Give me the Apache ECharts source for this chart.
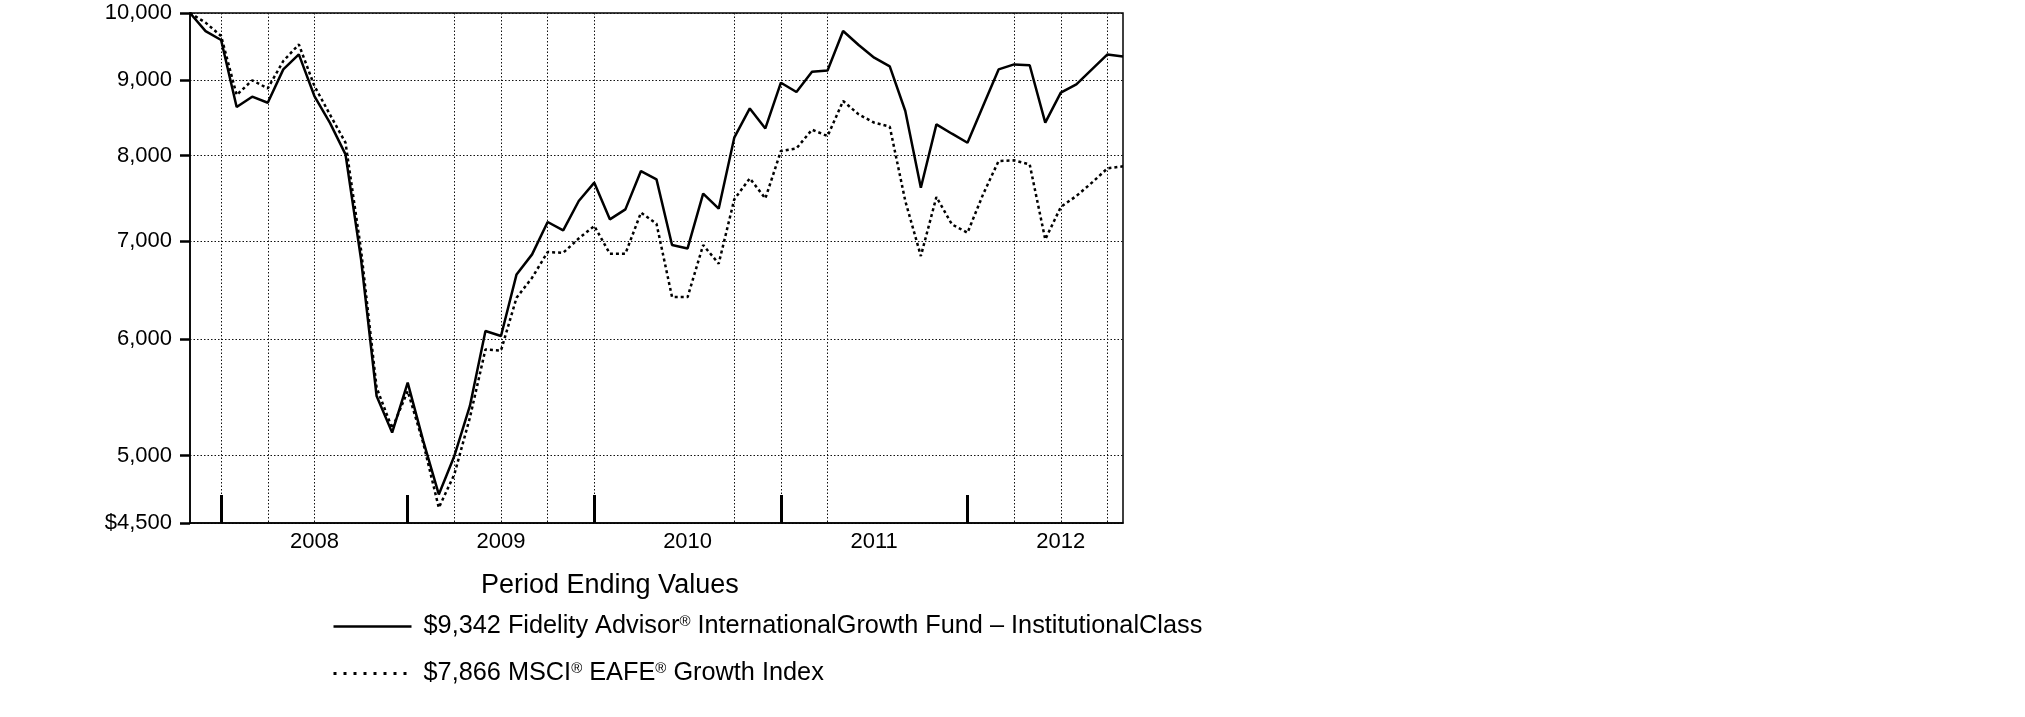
<!DOCTYPE html>
<html>
<head>
<meta charset="utf-8">
<script src="https://cdn.jsdelivr.net/npm/echarts@6/dist/echarts.min.js"></script>
<style>
html,body{margin:0;padding:0;background:#fff;}
#chart{width:2025px;height:717px;}
</style>
</head>
<body>
<div id="chart"></div>
<script>
// Month-end categories (Oct 2007 = start value $10,000)
const months = [
 '2007-10','2007-11','2007-12',
 '2008-01','2008-02','2008-03','2008-04','2008-05','2008-06','2008-07','2008-08','2008-09','2008-10','2008-11','2008-12',
 '2009-01','2009-02','2009-03','2009-04','2009-05','2009-06','2009-07','2009-08','2009-09','2009-10','2009-11','2009-12',
 '2010-01','2010-02','2010-03','2010-04','2010-05','2010-06','2010-07','2010-08','2010-09','2010-10','2010-11','2010-12',
 '2011-01','2011-02','2011-03','2011-04','2011-05','2011-06','2011-07','2011-08','2011-09','2011-10','2011-11','2011-12',
 '2012-01','2012-02','2012-03','2012-04','2012-05','2012-06','2012-07','2012-08','2012-09','2012-10'
];
const fundValues = [
 10000, 9720, 9586, 8631, 8772, 8689, 9155, 9372, 8781, 8420, 8014,
 6800, 5490, 5184, 5606, 5117, 4706, 4998, 5405, 6078, 6031,
 6641, 6853, 7209, 7115, 7450, 7667, 7239, 7353, 7808, 7707,
 6954, 6917, 7536, 7361, 8227, 8612, 8347, 8966, 8836, 9120,
 9140, 9722, 9511, 9324, 9198, 8578, 7607, 8400, 8278, 8162,
 8645, 9155, 9227, 9215, 8422, 8827, 8942, 9155, 9372, 9342
];
const indexValues = [
 10000, 9850, 9646, 8795, 9000, 8887, 9276, 9520, 8920, 8530, 8162,
 6900, 5562, 5218, 5533, 5100, 4609, 4856, 5307, 5905, 5895,
 6403, 6607, 6878, 6870, 7026, 7164, 6860, 6860, 7315, 7190,
 6410, 6410, 6954, 6754, 7469, 7719, 7480, 8057, 8090, 8330,
 8248, 8713, 8532, 8422, 8370, 7450, 6835, 7497, 7182, 7089,
 7528, 7932, 7940, 7890, 7015, 7380, 7509, 7667, 7841, 7866
];
const yTickValues = [4500, 5000, 6000, 7000, 8000, 9000, 10000];
const yearLabelMonths = ['2008-06','2009-06','2010-06','2011-06','2012-06'];
const yearTickMonths = ['2007-12','2008-12','2009-12','2010-12','2011-12'];
const gridMonths = ['2007-12','2008-03','2008-06','2009-03','2009-06','2009-09','2009-12','2010-09','2010-12','2011-03','2012-03','2012-06','2012-09'];
const fundName = 'Fidelity Advisor® InternationalGrowth Fund – InstitutionalClass';
const indexName = 'MSCI® EAFE® Growth Index';
const titleText = 'Period Ending Values';

const FONT = "'Liberation Sans', Arial, Helvetica, sans-serif";
function fmtNum(v){ return String(Math.round(v)).replace(/\B(?=(\d{3})+(?!\d))/g, ','); }
function richName(name){ return name.replace(/®/g, '{sup|®}'); }

const chart = echarts.init(document.getElementById('chart'), null, {renderer: 'canvas'});
const lastFund = fundValues[fundValues.length - 1];
const lastIndex = indexValues[indexValues.length - 1];
const hiddenMarker = {color: 'rgba(0,0,0,0)', borderWidth: 0, borderColor: 'rgba(0,0,0,0)'};

chart.setOption({
  animation: false,
  backgroundColor: '#fff',
  title: {
    text: titleText,
    left: 476, top: 567,
    textStyle: {fontFamily: FONT, fontSize: 27, fontWeight: 'normal', color: '#000'}
  },
  legend: {
    orient: 'vertical',
    left: 327, top: 609,
    itemWidth: 78, itemHeight: 26, itemGap: 22,
    selectedMode: false,
    data: [
      {name: fundName, itemStyle: hiddenMarker, lineStyle: {color: '#000', width: 2.5, type: 'solid'}},
      {name: indexName, itemStyle: hiddenMarker, lineStyle: {color: '#000', width: 3, type: [3, 7]}}
    ],
    formatter: function(name){
      const v = name === fundName ? lastFund : lastIndex;
      return '$' + fmtNum(v) + ' ' + richName(name);
    },
    textStyle: {
      fontFamily: FONT, fontSize: 25.3, color: '#000', padding: [0, 0, 0, 7],
      rich: {
        sup: {fontFamily: FONT, fontSize: 15, color: '#000', verticalAlign: 'top', padding: [0, 0, 8, 0]}
      }
    }
  },
  grid: {
    left: 190, right: 902, top: 13, bottom: 194,
    show: true, borderColor: '#000', borderWidth: 1.5, backgroundColor: 'transparent'
  },
  xAxis: {
    type: 'category',
    data: months,
    boundaryGap: false,
    axisLine: {show: true, lineStyle: {color: '#000', width: 1.5}},
    axisTick: {
      show: true, inside: true, length: 28,
      interval: function(i){ return yearTickMonths.indexOf(months[i]) >= 0; },
      lineStyle: {color: '#000', width: 3}
    },
    axisLabel: {
      interval: function(i){ return yearLabelMonths.indexOf(months[i]) >= 0; },
      formatter: function(v){ return v.slice(0, 4); },
      fontFamily: FONT, fontSize: 22, color: '#000', margin: 8
    },
    splitLine: {
      show: true,
      interval: function(i){ return gridMonths.indexOf(months[i]) >= 0; },
      lineStyle: {color: '#111', width: 1, type: [1.5, 2]}
    }
  },
  yAxis: {
    type: 'log',
    logBase: 10,
    min: 4500, max: 10000,
    axisLine: {show: true, lineStyle: {color: '#000', width: 1.5}},
    axisTick: {show: true, length: 10, customValues: yTickValues, lineStyle: {color: '#000', width: 2.5}},
    axisLabel: {
      customValues: yTickValues,
      fontFamily: FONT, fontSize: 22, color: '#000', margin: 18,
      formatter: function(v){ const s = fmtNum(v); return Math.round(v) === yTickValues[0] ? '$' + s : s; }
    },
    splitLine: {show: true, lineStyle: {color: '#111', width: 1, type: [1.5, 2]}}
  },
  series: [
    {
      name: fundName, type: 'line', data: fundValues,
      symbol: 'none', showSymbol: false, z: 3,
      itemStyle: {color: '#000'},
      lineStyle: {color: '#000', width: 2.5, type: 'solid'}
    },
    {
      name: indexName, type: 'line', data: indexValues,
      symbol: 'none', showSymbol: false, z: 2,
      itemStyle: {color: '#000'},
      lineStyle: {color: '#000', width: 2.5, type: [3, 3]}
    }
  ]
});
</script>
</body>
</html>
